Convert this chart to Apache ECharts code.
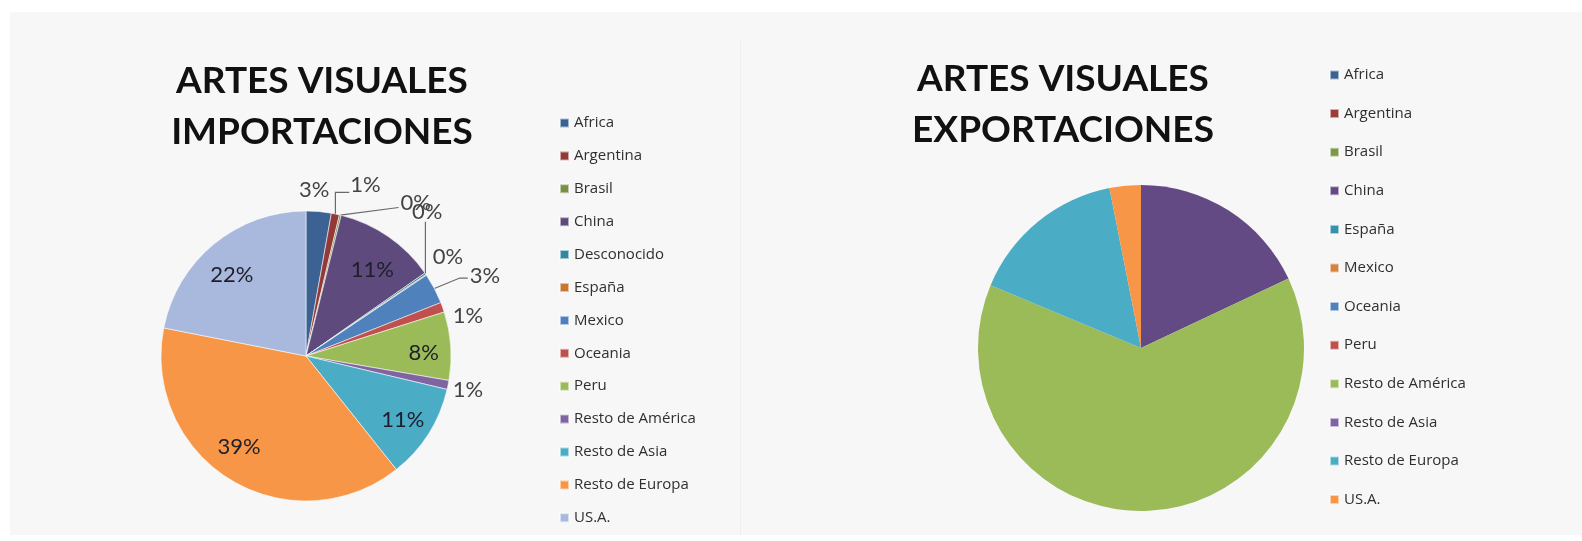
<!DOCTYPE html>
<html>
<head>
<meta charset="utf-8">
<script src="https://cdn.jsdelivr.net/npm/echarts@6/dist/echarts.min.js"></script>
<style>
  html, body { margin: 0; padding: 0; background: #ffffff; }
  #chart { position: absolute; left: 0; top: 0; width: 1582px; height: 541px; }
</style>
</head>
<body>
<div id="chart"></div>
<script>
// Origen de las importaciones (% del total)
const importRegions = ['Africa', 'Argentina', 'Brasil', 'China', 'Desconocido', 'España', 'Mexico', 'Oceania', 'Peru', 'Resto de América', 'Resto de Asia', 'Resto de Europa', 'US.A.'];
const importShares = [2.8, 0.9, 0.2, 11.4, 0.2, 0.1, 3.4, 1.1, 7.6, 1.0, 10.6, 38.8, 21.9];

// Destino de las exportaciones (% del total)
const exportRegions = ['Africa', 'Argentina', 'Brasil', 'China', 'España', 'Mexico', 'Oceania', 'Peru', 'Resto de América', 'Resto de Asia', 'Resto de Europa', 'US.A.'];
const exportShares = [0, 0, 0, 18.0, 0, 0, 0, 0, 63.3, 0, 15.6, 3.1];

// Colores de cada región
const importColors = ['#3b6292', '#933a38', '#76904a', '#5e4a7c', '#34879d', '#c7772f', '#4f81bd', '#c0504d', '#9bbb59', '#8064a2', '#4bacc6', '#f79646', '#a9b9dd'];
const exportColors = ['#3b6292', '#9c3c3a', '#7b9a48', '#634a85', '#3592aa', '#d4843f', '#4f81bd', '#c0504d', '#9bbb59', '#8064a2', '#4bacc6', '#f79646'];

// Porciones grandes con la etiqueta dentro; el resto fuera
const insideLabels = ['China', 'Peru', 'Resto de Asia', 'Resto de Europa', 'US.A.'];

// Ajuste fino de etiquetas (desplazamiento sobre la posición por defecto y tipo de guía)
const labelNudge = {
  'Africa':           { dx: -38, dy: -8,  line: 'none' },
  'Argentina':        { dx: -5,  dy: -15, line: 'elbow' },
  'Brasil':           { dx: 40,  dy: 1,   line: 'straight' },
  'Desconocido':      { dx: -42, dy: -54, line: 'vertical' },
  'España':           { dx: -22, dy: -10, line: 'none' },
  'Mexico':           { dx: 6,   dy: -6,  line: 'bent' },
  'Oceania':          { dx: -20, dy: 13,  line: 'none' },
  'Resto de América': { dx: -26, dy: 2,   line: 'none' },
  'China':            { dx: 0,   dy: 10 },
  'Peru':             { dx: 1,   dy: 5 },
  'Resto de Asia':    { dx: -2,  dy: 1 },
  'Resto de Europa':  { dx: -6,  dy: -9 },
  'US.A.':            { dx: 0,   dy: 9 }
};

const FONT = 'Lato, "Open Sans", sans-serif';
const pct = p => Math.round(p.percent) + '%';

// Etiquetas exteriores: se desplazan y se redibuja la guía desde el borde de la porción
function outerLabelLayout(params) {
  const name = importRegions[params.dataIndex];
  const n = labelNudge[name] || { dx: 0, dy: 0, line: 'none' };
  const r = params.labelRect;
  const left = r.x + n.dx;
  const midY = r.y + r.height / 2 + n.dy;
  const out = { x: left, y: midY, align: 'left', verticalAlign: 'middle', hideOverlap: false };
  const pts = params.labelLinePoints;
  if (pts && pts.length) {
    const p0 = pts[0];
    if (n.line === 'elbow') {
      out.labelLinePoints = [p0, [p0[0], midY + 7], [left - 1, midY + 7]];
    } else if (n.line === 'straight') {
      out.labelLinePoints = [p0, [left - 2, midY + 5]];
    } else if (n.line === 'vertical') {
      out.labelLinePoints = [p0, [p0[0], midY + 10]];
    } else if (n.line === 'bent') {
      out.labelLinePoints = [p0, [left - 10, midY + 2], [left - 2, midY + 2]];
    }
  }
  return out;
}

// Etiquetas interiores
function innerLabelLayout(params) {
  const name = importRegions[params.dataIndex];
  const n = labelNudge[name] || { dx: 0, dy: 0 };
  const r = params.labelRect;
  return {
    x: r.x + r.width / 2 + n.dx,
    y: r.y + r.height / 2 + n.dy,
    align: 'center', verticalAlign: 'middle', hideOverlap: false
  };
}

const chart = echarts.init(document.getElementById('chart'), null, { renderer: 'canvas' });

const importMain = importRegions.map((name, i) => {
  const inside = insideLabels.includes(name);
  const nudge = labelNudge[name];
  return {
    name,
    value: importShares[i],
    itemStyle: { color: importColors[i] },
    label: { show: !inside },
    labelLine: { show: !inside && nudge && nudge.line !== 'none' }
  };
});

const importInner = importRegions.map((name, i) => ({
  name,
  value: importShares[i],
  label: { show: insideLabels.includes(name) }
}));

const exportData = exportRegions.map((name, i) => ({
  name,
  value: exportShares[i],
  itemStyle: { color: exportColors[i] }
}));

const legendText = { fontFamily: '"Open Sans", sans-serif', fontSize: 15, color: '#2f2f2f', lineHeight: 16 };

chart.setOption({
  animation: false,
  graphic: [
    { type: 'rect', z: -10, silent: true, shape: { x: 10, y: 12, width: 1572, height: 523 }, style: { fill: '#f7f7f7' } },
    { type: 'line', z: -9, silent: true, shape: { x1: 740.5, y1: 40, x2: 740.5, y2: 535 }, style: { stroke: '#eeeeee', lineWidth: 1 } }
  ],
  title: [
    {
      text: 'ARTES VISUALES\nIMPORTACIONES',
      left: 322, top: 56, textAlign: 'center', padding: 0,
      textStyle: { fontFamily: FONT, fontSize: 37, fontWeight: 'bold', lineHeight: 51, color: '#111111' }
    },
    {
      text: 'ARTES VISUALES\nEXPORTACIONES',
      left: 1063, top: 54, textAlign: 'center', padding: 0,
      textStyle: { fontFamily: FONT, fontSize: 37, fontWeight: 'bold', lineHeight: 51, color: '#111111' }
    }
  ],
  legend: [
    {
      orient: 'vertical', left: 559, top: 115, padding: 0,
      itemWidth: 9, itemHeight: 9, itemGap: 16.9, icon: 'rect',
      selectedMode: false,
      textStyle: legendText,
      data: importRegions.map((name, i) => ({ name, itemStyle: { color: importColors[i] } }))
    },
    {
      orient: 'vertical', left: 1329, top: 67, padding: 0,
      itemWidth: 9, itemHeight: 9, itemGap: 22.6, icon: 'rect',
      selectedMode: false,
      textStyle: legendText,
      data: exportRegions.map((name, i) => ({ name, itemStyle: { color: exportColors[i] } }))
    }
  ],
  series: [
    {
      type: 'pie',
      name: 'Importaciones',
      center: [306, 356],
      radius: [0, 145],
      startAngle: 90,
      clockwise: true,
      avoidLabelOverlap: false,
      itemStyle: { borderColor: 'rgba(255,255,255,0.55)', borderWidth: 1 },
      label: {
        position: 'outside',
        formatter: pct,
        fontFamily: FONT, fontSize: 22, color: '#444444'
      },
      labelLine: { length: 14, length2: 12, lineStyle: { color: '#6a6a6a', width: 1.2 } },
      labelLayout: outerLabelLayout,
      emphasis: { disabled: true },
      data: importMain
    },
    {
      type: 'pie',
      name: 'Importaciones etiquetas',
      center: [306, 356],
      radius: [110, 118],
      startAngle: 90,
      clockwise: true,
      silent: true,
      itemStyle: { color: 'rgba(0,0,0,0)', borderWidth: 0 },
      label: {
        position: 'inside',
        formatter: pct,
        fontFamily: FONT, fontSize: 22, color: '#1e1e2a'
      },
      labelLine: { show: false },
      labelLayout: innerLabelLayout,
      emphasis: { disabled: true },
      data: importInner
    },
    {
      type: 'pie',
      name: 'Exportaciones',
      center: [1141, 348],
      radius: [0, 163],
      startAngle: 90,
      clockwise: true,
      label: { show: false },
      labelLine: { show: false },
      itemStyle: { borderWidth: 0 },
      emphasis: { disabled: true },
      data: exportData
    }
  ]
});
</script>
</body>
</html>
